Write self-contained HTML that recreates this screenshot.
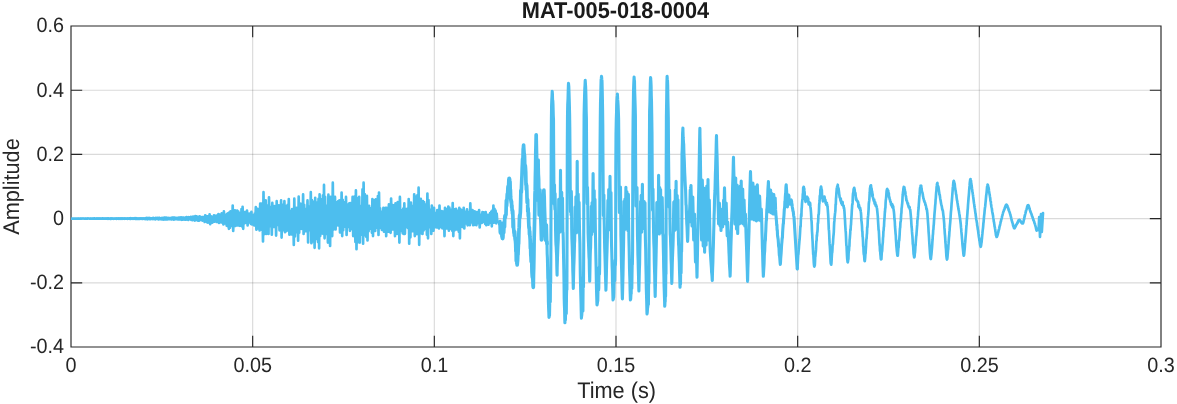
<!DOCTYPE html>
<html lang="en">
<head>
<meta charset="utf-8">
<title>MAT-005-018-0004</title>
<style>
html,body{margin:0;padding:0;background:#fff;}
body{width:1177px;height:404px;overflow:hidden;}
svg{display:block;}
</style>
</head>
<body>
<svg width="1177" height="404" viewBox="0 0 1177 404">
<rect width="1177" height="404" fill="#fff"/>
<path d="M252.67 26.00 V347.00 M434.33 26.00 V347.00 M616.00 26.00 V347.00 M797.67 26.00 V347.00 M979.33 26.00 V347.00" stroke="#262626" stroke-opacity="0.17" stroke-width="1.15" fill="none"/>
<path d="M71.00 90.20 H1161.00 M71.00 154.40 H1161.00 M71.00 218.60 H1161.00 M71.00 282.80 H1161.00" stroke="#262626" stroke-opacity="0.17" stroke-width="1.15" fill="none"/>
<path d="M71.00 26.00 H1161.00 V347.00 H71.00 Z M252.67 347.00 v-11.20 M252.67 26.00 v11.20 M434.33 347.00 v-11.20 M434.33 26.00 v11.20 M616.00 347.00 v-11.20 M616.00 26.00 v11.20 M797.67 347.00 v-11.20 M797.67 26.00 v11.20 M979.33 347.00 v-11.20 M979.33 26.00 v11.20 M71.00 90.20 h11.20 M1161.00 90.20 h-11.20 M71.00 154.40 h11.20 M1161.00 154.40 h-11.20 M71.00 218.60 h11.20 M1161.00 218.60 h-11.20 M71.00 282.80 h11.20 M1161.00 282.80 h-11.20" stroke="#262626" stroke-width="1.15" fill="none" stroke-linecap="butt" stroke-linejoin="miter"/>
<clipPath id="ax"><rect x="71.00" y="26.00" width="1090.00" height="321.00"/></clipPath>
<path clip-path="url(#ax)" d="M71.0 218.5 L71.5 218.6 L72.1 218.5 L72.7 218.6 L73.2 218.5 L73.8 218.6 L74.3 218.5 L74.8 218.6 L75.4 218.5 L76.0 218.6 L76.5 218.5 L77.0 218.6 L77.6 218.5 L78.2 218.7 L78.7 218.5 L79.2 218.6 L79.8 218.5 L80.3 218.7 L80.9 218.5 L81.5 218.6 L82.0 218.4 L82.5 218.6 L83.1 218.4 L83.7 218.6 L84.2 218.5 L84.8 218.6 L85.3 218.5 L85.8 218.7 L86.4 218.5 L87.0 218.7 L87.5 218.4 L88.0 218.6 L88.6 218.4 L89.2 218.6 L89.7 218.5 L90.2 218.6 L90.8 218.4 L91.3 218.7 L91.9 218.5 L92.5 218.7 L93.0 218.4 L93.5 218.7 L94.1 218.4 L94.7 218.7 L95.2 218.5 L95.8 218.7 L96.3 218.4 L96.8 218.7 L97.4 218.4 L98.0 218.7 L98.5 218.4 L99.0 218.6 L99.6 218.4 L100.2 218.7 L100.7 218.5 L101.2 218.7 L101.8 218.5 L102.3 218.7 L102.9 218.4 L103.5 218.7 L104.0 218.4 L104.6 218.7 L105.1 218.4 L105.7 218.7 L106.2 218.4 L106.8 218.7 L107.3 218.4 L107.8 218.8 L108.4 218.4 L109.0 218.7 L109.5 218.5 L110.1 218.8 L110.6 218.4 L111.2 218.8 L111.7 218.4 L112.2 218.7 L112.8 218.4 L113.3 218.8 L113.9 218.5 L114.5 218.7 L115.0 218.4 L115.6 218.7 L116.1 218.4 L116.7 218.8 L117.2 218.4 L117.8 218.7 L118.3 218.4 L118.8 218.8 L119.4 218.4 L120.0 218.7 L120.5 218.4 L121.1 218.8 L121.6 218.3 L122.2 218.8 L122.7 218.4 L123.2 218.7 L123.8 218.4 L124.3 218.8 L124.9 218.3 L125.5 218.7 L126.0 218.4 L126.6 218.7 L127.1 218.4 L127.7 218.8 L128.2 218.3 L128.8 218.7 L129.3 218.4 L129.8 218.9 L130.4 218.2 L130.9 218.8 L131.5 218.3 L132.1 218.8 L132.6 218.3 L133.2 218.8 L133.7 218.3 L134.2 218.7 L134.8 218.2 L135.4 218.9 L135.9 218.2 L136.4 218.9 L137.0 218.3 L137.6 218.8 L138.1 218.4 L138.7 218.9 L139.2 218.4 L139.8 218.8 L140.3 218.3 L140.9 218.8 L141.4 218.3 L141.9 218.8 L142.5 218.4 L143.1 218.8 L143.6 218.3 L144.2 218.9 L144.7 218.3 L145.2 219.1 L145.8 218.1 L146.4 218.9 L146.9 217.9 L147.4 219.3 L148.0 218.2 L148.6 218.9 L149.1 218.0 L149.7 219.2 L150.2 218.1 L150.8 219.0 L151.3 218.3 L151.9 218.9 L152.4 218.1 L152.9 219.0 L153.5 217.9 L154.1 218.9 L154.6 218.3 L155.2 219.3 L155.7 218.0 L156.2 218.9 L156.8 218.0 L157.4 218.9 L157.9 218.0 L158.4 219.4 L159.0 217.8 L159.6 219.2 L160.1 218.1 L160.7 219.1 L161.2 218.1 L161.8 219.3 L162.3 217.9 L162.9 219.3 L163.4 218.0 L163.9 219.6 L164.5 217.6 L165.1 219.5 L165.6 217.7 L166.2 219.4 L166.7 217.7 L167.2 219.4 L167.8 218.1 L168.4 219.2 L168.9 218.0 L169.4 219.0 L170.0 218.2 L170.6 219.1 L171.1 218.0 L171.7 219.4 L172.2 217.6 L172.8 219.2 L173.3 217.6 L173.9 219.6 L174.4 217.6 L174.9 219.2 L175.5 218.0 L176.1 219.1 L176.6 218.0 L177.2 219.1 L177.7 217.8 L178.2 219.5 L178.8 217.6 L179.4 219.3 L179.9 217.7 L180.4 219.5 L181.0 217.4 L181.6 219.8 L182.1 217.5 L182.7 219.6 L183.2 217.5 L183.8 219.4 L184.3 217.9 L184.9 219.7 L185.4 217.7 L185.9 219.7 L186.5 217.1 L187.1 219.4 L187.6 217.6 L188.2 220.0 L188.7 217.2 L189.2 219.3 L189.8 217.7 L190.4 219.3 L190.9 216.9 L191.4 220.0 L192.0 217.6 L192.6 220.1 L193.1 216.6 L193.7 220.0 L194.2 217.3 L194.8 220.6 L195.3 216.2 L195.9 219.4 L196.4 216.4 L197.0 220.2 L197.5 216.9 L198.1 220.7 L198.6 217.0 L199.2 220.7 L199.7 216.4 L200.2 219.9 L200.8 217.2 L201.4 220.1 L201.9 217.1 L202.5 220.6 L203.0 217.1 L203.6 220.4 L204.1 217.2 L204.7 222.0 L205.2 215.3 L205.8 220.9 L206.3 216.2 L206.9 222.2 L207.4 216.4 L208.0 222.7 L208.5 216.1 L209.1 222.0 L209.6 214.3 L210.2 224.2 L210.7 216.1 L211.2 221.0 L211.8 217.0 L212.4 222.6 L212.9 216.6 L213.5 221.6 L214.0 215.3 L214.6 221.7 L215.1 216.2 L215.7 221.5 L216.2 215.7 L216.8 222.0 L217.3 216.7 L217.9 221.4 L218.4 214.0 L219.0 222.8 L219.5 214.7 L220.1 221.5 L220.6 214.9 L221.2 222.5 L221.7 213.4 L222.2 221.8 L222.8 214.0 L223.4 224.5 L223.9 211.4 L224.5 223.4 L225.0 214.5 L225.6 223.4 L226.1 214.5 L226.7 225.7 L227.2 213.8 L227.8 226.2 L228.3 213.2 L228.9 228.8 L229.4 212.3 L230.0 227.7 L230.5 211.4 L231.1 223.4 L231.6 214.1 L232.2 225.6 L232.7 205.5 L233.2 231.0 L233.8 213.9 L234.4 226.0 L234.9 210.4 L235.5 226.0 L236.0 214.5 L236.6 224.0 L237.1 210.6 L237.7 225.4 L238.2 211.4 L238.8 225.3 L239.3 214.1 L239.9 225.8 L240.4 212.8 L241.0 224.1 L241.5 209.0 L242.1 226.4 L242.6 206.9 L243.2 228.8 L243.7 211.8 L244.2 223.3 L244.8 214.0 L245.4 222.8 L245.9 211.9 L246.5 221.2 L247.0 210.6 L247.6 225.4 L248.1 215.8 L248.7 222.0 L249.2 213.6 L249.8 222.5 L250.3 215.9 L250.9 223.9 L251.4 211.9 L252.0 224.5 L252.5 215.4 L253.1 222.4 L253.6 215.2 L254.2 225.5 L254.7 213.5 L255.3 222.9 L255.8 207.2 L256.4 229.6 L256.9 208.7 L257.5 224.1 L258.0 212.7 L258.6 228.4 L259.1 208.9 L259.6 230.5 L260.2 203.5 L260.8 224.7 L261.3 203.5 L261.9 229.8 L262.4 208.9 L263.0 241.5 L263.5 192.2 L264.1 234.1 L264.6 210.0 L265.1 232.5 L265.7 200.4 L266.2 233.9 L266.8 207.2 L267.4 226.7 L267.9 205.4 L268.5 233.9 L269.0 197.3 L269.6 225.1 L270.1 206.9 L270.6 226.1 L271.2 211.7 L271.8 234.7 L272.3 202.9 L272.9 226.0 L273.4 210.2 L274.0 227.0 L274.5 206.0 L275.1 227.0 L275.6 208.0 L276.1 235.6 L276.7 201.2 L277.2 224.8 L277.8 210.1 L278.4 225.0 L278.9 205.4 L279.5 230.3 L280.0 210.5 L280.6 229.9 L281.1 200.4 L281.6 237.6 L282.2 204.5 L282.8 228.2 L283.3 207.7 L283.9 230.3 L284.4 201.2 L285.0 232.2 L285.5 205.9 L286.1 231.2 L286.6 208.8 L287.1 230.5 L287.7 204.9 L288.2 229.4 L288.8 199.0 L289.4 234.7 L289.9 211.1 L290.5 226.6 L291.0 210.9 L291.6 234.5 L292.1 209.0 L292.6 228.9 L293.2 210.7 L293.8 244.9 L294.3 198.7 L294.9 236.5 L295.4 208.3 L296.0 230.1 L296.5 207.9 L297.1 232.2 L297.6 209.1 L298.1 240.7 L298.7 196.7 L299.2 232.7 L299.8 203.7 L300.4 226.2 L300.9 203.8 L301.5 228.8 L302.0 208.7 L302.6 226.0 L303.1 194.4 L303.6 233.9 L304.2 204.8 L304.8 229.8 L305.3 208.8 L305.9 231.1 L306.4 211.6 L307.0 229.6 L307.5 200.4 L308.1 242.4 L308.6 210.8 L309.1 227.3 L309.7 206.4 L310.2 230.2 L310.8 192.2 L311.4 243.2 L311.9 200.2 L312.5 237.2 L313.0 201.7 L313.6 241.4 L314.1 206.6 L314.6 247.8 L315.2 197.8 L315.8 231.2 L316.3 202.4 L316.9 239.0 L317.4 210.0 L318.0 242.1 L318.5 198.9 L319.1 248.3 L319.6 194.4 L320.2 236.1 L320.7 199.1 L321.2 230.0 L321.8 202.5 L322.4 233.5 L322.9 195.3 L323.5 233.9 L324.0 184.9 L324.6 238.3 L325.1 196.8 L325.7 234.1 L326.2 205.5 L326.8 227.0 L327.3 208.2 L327.9 242.6 L328.4 194.7 L329.0 239.2 L329.5 204.4 L330.1 245.9 L330.6 196.9 L331.2 233.7 L331.7 197.8 L332.2 236.1 L332.8 182.7 L333.4 229.6 L333.9 201.6 L334.5 226.5 L335.0 196.9 L335.6 229.5 L336.1 202.1 L336.7 224.6 L337.2 209.6 L337.8 225.3 L338.3 201.0 L338.9 225.4 L339.4 200.3 L340.0 232.5 L340.5 203.0 L341.1 228.1 L341.6 192.5 L342.2 236.1 L342.7 199.8 L343.2 230.1 L343.8 202.1 L344.4 225.1 L344.9 208.8 L345.5 226.6 L346.0 196.9 L346.6 235.0 L347.1 204.4 L347.7 224.5 L348.2 210.3 L348.8 226.9 L349.3 203.3 L349.9 230.8 L350.4 203.2 L351.0 227.2 L351.5 205.0 L352.1 228.9 L352.6 196.9 L353.2 236.1 L353.7 199.1 L354.2 229.2 L354.8 196.3 L355.4 241.9 L355.9 190.4 L356.5 249.2 L357.0 197.8 L357.6 242.4 L358.1 204.4 L358.7 231.0 L359.2 196.9 L359.8 242.6 L360.3 206.6 L360.9 234.7 L361.4 205.8 L362.0 234.2 L362.5 189.3 L363.1 243.7 L363.6 182.7 L364.2 233.5 L364.7 194.0 L365.2 235.3 L365.8 206.2 L366.4 237.0 L366.9 195.8 L367.5 240.4 L368.0 210.8 L368.6 231.1 L369.1 205.9 L369.7 228.6 L370.2 209.7 L370.8 228.5 L371.3 208.2 L371.9 232.8 L372.4 199.1 L373.0 236.1 L373.5 202.0 L374.1 225.7 L374.6 200.1 L375.2 230.9 L375.7 199.4 L376.2 227.0 L376.8 205.2 L377.4 227.8 L377.9 196.1 L378.5 235.0 L379.0 192.5 L379.6 227.6 L380.1 208.3 L380.7 224.1 L381.2 211.7 L381.8 229.8 L382.3 211.7 L382.9 229.9 L383.4 207.8 L384.0 231.7 L384.5 211.9 L385.1 226.2 L385.6 207.8 L386.2 236.1 L386.7 207.9 L387.2 231.3 L387.8 208.4 L388.4 231.7 L388.9 204.4 L389.5 228.2 L390.0 205.0 L390.6 232.8 L391.1 198.6 L391.7 227.3 L392.2 204.8 L392.8 229.4 L393.3 209.9 L393.9 224.8 L394.4 205.1 L395.0 236.1 L395.5 203.4 L396.1 228.6 L396.6 209.8 L397.2 233.8 L397.7 202.1 L398.2 229.4 L398.8 204.2 L399.4 242.6 L399.9 196.9 L400.5 231.0 L401.0 210.0 L401.6 227.3 L402.1 210.4 L402.7 233.3 L403.2 208.6 L403.8 233.9 L404.3 203.4 L404.9 233.8 L405.4 208.8 L406.0 226.9 L406.5 210.6 L407.1 227.2 L407.6 208.7 L408.2 228.1 L408.7 199.1 L409.2 243.7 L409.8 205.2 L410.4 237.3 L410.9 202.6 L411.5 230.7 L412.0 205.9 L412.6 231.1 L413.1 205.8 L413.7 228.3 L414.2 194.3 L414.8 236.1 L415.3 196.4 L415.9 227.1 L416.4 201.7 L417.0 234.1 L417.5 195.1 L418.1 230.1 L418.6 187.7 L419.2 244.8 L419.7 203.3 L420.2 231.3 L420.8 198.8 L421.4 233.3 L421.9 203.0 L422.5 233.9 L423.0 201.2 L423.6 230.4 L424.1 202.1 L424.7 229.0 L425.2 204.3 L425.8 224.9 L426.3 205.6 L426.9 234.7 L427.4 193.6 L428.0 238.3 L428.5 200.0 L429.1 227.1 L429.6 211.3 L430.2 225.7 L430.7 209.6 L431.3 233.9 L431.8 205.6 L432.4 228.4 L432.9 210.8 L433.5 230.6 L434.0 207.8 L434.6 226.0 L435.1 214.3 L435.7 227.1 L436.2 212.9 L436.8 227.5 L437.3 210.0 L437.9 223.8 L438.4 213.2 L439.0 228.5 L439.5 205.6 L440.1 227.0 L440.6 213.6 L441.2 223.7 L441.7 211.2 L442.3 228.3 L442.8 212.3 L443.4 226.2 L443.9 211.3 L444.5 236.1 L445.0 207.8 L445.6 228.0 L446.1 208.9 L446.7 228.5 L447.2 209.1 L447.8 226.4 L448.3 206.7 L448.9 230.6 L449.4 207.7 L450.0 228.7 L450.5 211.5 L451.1 224.2 L451.6 209.5 L452.2 230.6 L452.7 203.0 L453.3 236.1 L453.8 209.1 L454.4 230.5 L454.9 213.1 L455.5 223.1 L456.0 208.9 L456.6 229.5 L457.1 211.4 L457.7 225.4 L458.2 210.5 L458.8 231.8 L459.3 207.8 L459.9 238.3 L460.4 209.2 L461.0 226.9 L461.5 210.1 L462.1 225.1 L462.6 213.5 L463.2 227.1 L463.7 207.8 L464.3 228.5 L464.8 211.5 L465.4 222.6 L465.9 212.8 L466.5 223.4 L467.0 209.4 L467.6 225.3 L468.1 212.6 L468.7 222.6 L469.2 211.8 L469.8 225.2 L470.3 203.4 L470.9 221.1 L471.4 214.2 L472.0 222.3 L472.5 210.0 L473.1 225.2 L473.6 212.2 L474.2 224.9 L474.7 211.3 L475.3 222.5 L475.8 214.7 L476.4 225.2 L476.9 212.1 L477.5 221.6 L478.0 212.5 L478.6 223.3 L479.1 210.0 L479.7 227.4 L480.2 214.9 L480.8 221.4 L481.3 214.6 L481.9 222.8 L482.4 212.2 L483.0 221.7 L483.5 212.4 L484.1 221.8 L484.6 214.9 L485.2 223.9 L485.7 212.1 L486.3 225.2 L486.8 216.1 L487.4 222.8 L487.9 214.9 L488.5 224.6 L489.0 215.5 L489.6 222.6 L490.1 213.0 L490.7 221.4 L491.2 211.7 L491.8 226.3 L492.3 210.7 L492.9 220.3 L493.4 205.6 L494.0 222.6 L494.5 208.8 L495.1 221.0 L495.6 210.7 L496.2 223.3 L496.7 213.5 L497.3 221.7 L499.5 222.0 L499.7 224.3" stroke="#4DBEEE" stroke-width="2.67" fill="none" stroke-linejoin="round" stroke-linecap="butt"/>
<path clip-path="url(#ax)" d="M546.7 241.3 L547.0 243.6 L547.2 254.1 L547.4 257.7 L547.6 267.0 L547.8 278.1 L548.0 279.8 L548.2 289.0 L548.4 302.0 L548.6 307.9 L548.8 312.2 L549.0 317.4 L549.1 317.0 L549.3 314.8 L549.5 315.8 L549.7 305.1 L549.9 288.8 L550.1 292.4 L550.3 301.7 L550.5 278.9 L550.7 283.4 L550.9 247.2 L551.2 147.6 L551.4 118.8 L551.6 105.0 L551.8 99.7 L552.0 96.4 L552.2 91.2 L552.2 91.3 L552.4 93.6 L552.6 100.1 L552.8 100.7 L553.0 104.6 L553.3 115.8 L553.5 119.7 L553.7 158.0 L553.9 183.7 L554.1 204.1 L554.3 202.5 L554.5 184.7 L554.7 205.0 L554.9 209.4 L555.1 193.5 L555.4 210.0 L555.6 231.6 L555.8 240.9 L556.0 244.9 L556.2 246.9 L556.4 251.8 L556.6 255.0 L556.8 266.3 L557.0 272.7 L557.1 275.2 L557.2 267.8 L557.5 257.2 L557.7 252.3 L557.9 246.6 L558.1 243.0 L558.3 238.9 L558.5 225.9 L558.7 199.2 L558.9 221.2 L559.1 228.2 L559.3 200.5 L559.6 205.5 L559.8 232.1 L560.0 230.1 L560.2 214.2 L560.4 184.3 L560.5 170.3 L560.6 183.2 L560.8 208.0 L561.0 218.6 L561.2 228.0 L561.4 206.5 L561.7 192.3 L561.9 213.0 L562.1 229.7 L562.3 210.2 L562.5 198.0 L562.7 214.4 L562.9 232.9 L563.1 232.8 L563.3 240.3 L563.5 253.6 L563.8 268.6 L564.0 280.9 L564.2 298.7 L564.4 305.5 L564.6 310.2 L564.8 319.5 L564.9 322.8 L565.0 321.1 L565.2 319.3 L565.4 319.9 L565.6 312.6 L565.9 297.9 L566.1 295.7 L566.3 313.4 L566.5 294.9 L566.7 287.8 L566.9 289.7 L567.1 221.5 L567.3 144.9 L567.5 115.5 L567.7 104.9 L568.0 98.7 L568.2 91.1 L568.4 85.0 L568.5 83.4 L568.6 84.3 L568.8 86.6 L569.0 92.2 L569.2 98.2 L569.4 106.1 L569.6 113.7 L569.8 127.6 L570.1 166.7 L570.3 194.6 L570.5 211.7 L570.7 192.9 L570.9 192.0 L571.1 215.1 L571.3 191.4 L571.5 198.1 L571.7 229.5 L571.9 239.0 L572.2 246.5 L572.4 254.2 L572.6 259.3 L572.8 270.8 L573.0 276.3 L573.2 285.3 L573.3 288.5 L573.4 284.2 L573.6 274.9 L573.8 266.4 L574.0 261.9 L574.3 252.2 L574.5 243.4 L574.7 240.8 L574.9 221.1 L575.1 206.9 L575.3 207.8 L575.5 226.4 L575.7 219.9 L575.9 196.8 L576.1 213.4 L576.4 232.8 L576.6 231.9 L576.8 224.1 L577.0 193.4 L577.2 161.3 L577.2 161.3 L577.4 193.3 L577.6 212.4 L577.8 225.3 L578.0 211.6 L578.2 194.0 L578.5 210.5 L578.7 227.3 L578.9 210.3 L579.1 202.2 L579.3 217.6 L579.5 229.5 L579.7 236.6 L579.9 243.4 L580.1 259.2 L580.3 274.1 L580.6 287.1 L580.8 295.0 L581.0 301.5 L581.2 310.7 L581.4 318.2 L581.4 318.2 L581.6 316.2 L581.8 314.7 L582.0 310.7 L582.2 305.5 L582.4 286.3 L582.7 293.6 L582.9 310.9 L583.1 287.7 L583.3 277.2 L583.5 287.0 L583.7 248.5 L583.9 156.5 L584.1 114.7 L584.3 105.2 L584.5 98.1 L584.8 88.4 L585.0 85.3 L585.2 80.9 L585.2 80.4 L585.4 83.4 L585.6 86.0 L585.8 91.0 L586.0 99.1 L586.2 111.6 L586.4 118.2 L586.6 149.8 L586.9 182.1 L587.1 202.5 L587.3 204.1 L587.5 187.3 L587.7 198.0 L587.9 218.1 L588.1 233.6 L588.3 239.4 L588.5 243.3 L588.7 248.8 L589.0 256.8 L589.2 259.4 L589.4 270.6 L589.6 277.2 L589.7 281.2 L589.8 277.2 L590.0 267.1 L590.2 256.1 L590.4 250.1 L590.6 247.8 L590.8 237.2 L591.1 228.7 L591.3 206.2 L591.5 211.1 L591.7 234.5 L591.9 211.3 L592.1 202.5 L592.3 227.6 L592.5 227.6 L592.7 222.6 L592.9 192.0 L593.1 173.5 L593.2 180.4 L593.4 203.9 L593.6 217.6 L593.8 231.2 L594.0 212.9 L594.2 190.5 L594.4 213.5 L594.6 227.1 L594.8 208.7 L595.0 199.4 L595.3 223.8 L595.5 237.4 L595.7 247.9 L595.9 257.6 L596.1 266.8 L596.3 278.8 L596.5 289.1 L596.7 296.2 L596.9 302.8 L597.0 305.0 L597.1 304.7 L597.4 302.7 L597.6 301.5 L597.8 300.7 L598.0 289.7 L598.2 278.6 L598.4 273.8 L598.6 290.0 L598.8 287.8 L599.0 269.8 L599.2 267.3 L599.5 274.3 L599.7 264.4 L599.9 176.5 L600.1 140.8 L600.3 117.5 L600.5 102.3 L600.7 96.3 L600.9 87.7 L601.1 80.0 L601.3 78.5 L601.5 76.3 L601.6 76.9 L601.8 79.4 L602.0 80.8 L602.2 88.9 L602.4 98.7 L602.6 109.7 L602.8 125.8 L603.0 164.4 L603.2 192.0 L603.4 215.6 L603.7 195.8 L603.9 194.9 L604.1 216.9 L604.3 226.5 L604.5 238.5 L604.7 248.4 L604.9 254.0 L605.1 260.7 L605.3 268.3 L605.5 276.9 L605.8 285.8 L605.9 290.2 L606.0 287.8 L606.2 281.6 L606.4 273.8 L606.6 263.4 L606.8 257.0 L607.0 251.4 L607.2 243.9 L607.4 236.4 L607.6 219.0 L607.9 200.2 L608.1 218.7 L608.3 229.4 L608.5 215.1 L608.7 189.5 L608.9 212.8 L609.1 229.3 L609.3 229.5 L609.5 221.5 L609.7 200.0 L610.0 179.9 L610.0 176.2 L610.2 194.0 L610.4 211.4 L610.6 224.7 L610.8 217.9 L611.0 192.5 L611.2 215.1 L611.4 238.3 L611.6 247.0 L611.8 253.6 L612.1 266.2 L612.3 271.2 L612.5 282.6 L612.7 288.3 L612.9 295.8 L613.0 300.0 L613.1 298.7 L613.3 299.0 L613.5 297.1 L613.7 297.3 L613.9 292.1 L614.2 273.9 L614.4 266.4 L614.6 280.8 L614.8 280.3 L615.0 268.4 L615.2 260.0 L615.4 265.1 L615.6 259.0 L615.8 166.8 L616.0 134.5 L616.3 119.1 L616.5 113.3 L616.7 104.7 L616.9 100.6 L617.1 97.4 L617.3 95.7 L617.4 94.1 L617.5 96.0 L617.7 99.7 L617.9 102.0 L618.1 105.3 L618.4 112.7 L618.6 118.7 L618.8 137.6 L619.0 170.2 L619.2 195.6 L619.4 212.5 L619.6 197.8 L619.8 189.9 L620.0 202.0 L620.2 203.6 L620.5 187.0 L620.7 207.2 L620.9 235.7 L621.1 242.7 L621.3 255.7 L621.5 265.0 L621.7 272.1 L621.9 281.5 L622.1 290.1 L622.3 297.3 L622.4 299.0 L622.6 291.6 L622.8 282.3 L623.0 274.6 L623.2 262.4 L623.4 253.0 L623.6 241.9 L623.8 224.2 L624.0 201.2 L624.2 214.1 L624.4 230.0 L624.7 208.7 L624.9 199.1 L625.1 222.3 L625.3 229.2 L625.5 225.2 L625.7 199.6 L625.9 187.3 L625.9 188.7 L626.1 202.9 L626.3 216.5 L626.5 226.1 L626.8 206.8 L627.0 191.9 L627.2 214.1 L627.4 222.6 L627.6 202.1 L627.8 204.0 L628.0 230.8 L628.2 215.0 L628.4 194.4 L628.6 220.3 L628.9 238.2 L629.1 246.4 L629.3 256.4 L629.5 268.1 L629.7 275.3 L629.9 280.5 L630.1 290.9 L630.3 297.1 L630.4 300.0 L630.5 298.7 L630.7 299.2 L631.0 292.7 L631.2 293.7 L631.4 274.1 L631.6 269.5 L631.8 288.5 L632.0 275.7 L632.2 263.0 L632.4 264.5 L632.6 250.4 L632.8 156.2 L633.1 119.1 L633.3 105.8 L633.5 91.4 L633.7 85.3 L633.9 80.7 L634.1 77.1 L634.1 77.3 L634.3 80.2 L634.5 81.1 L634.7 91.7 L634.9 97.8 L635.2 107.6 L635.4 116.0 L635.6 157.5 L635.8 186.5 L636.0 206.0 L636.2 203.3 L636.4 187.2 L636.6 202.7 L636.8 198.4 L637.0 187.5 L637.3 220.1 L637.5 236.5 L637.7 243.0 L637.9 254.6 L638.1 260.3 L638.3 268.7 L638.5 275.7 L638.7 283.9 L638.9 291.0 L638.9 289.2 L639.1 281.5 L639.4 268.7 L639.6 264.2 L639.8 250.8 L640.0 242.9 L640.2 233.2 L640.4 216.0 L640.6 201.3 L640.8 221.6 L641.0 223.7 L641.2 195.2 L641.5 209.8 L641.7 232.3 L641.9 225.5 L642.1 213.5 L642.3 192.0 L642.4 184.2 L642.5 192.8 L642.7 208.3 L642.9 217.2 L643.1 220.7 L643.3 205.4 L643.6 202.0 L643.8 221.0 L644.0 216.2 L644.2 201.6 L644.4 211.1 L644.6 228.8 L644.8 214.8 L645.0 202.8 L645.2 224.0 L645.4 239.4 L645.7 250.1 L645.9 264.9 L646.1 274.3 L646.3 288.3 L646.5 294.8 L646.7 301.6 L646.9 311.0 L647.0 314.0 L647.1 313.5 L647.3 312.0 L647.5 308.4 L647.8 306.7 L648.0 285.2 L648.2 288.1 L648.4 304.5 L648.6 285.5 L648.8 274.6 L649.0 283.3 L649.2 207.6 L649.4 146.5 L649.6 111.0 L649.9 103.1 L650.1 92.5 L650.3 83.5 L650.5 79.0 L650.6 77.5 L650.7 79.0 L650.9 81.2 L651.1 85.7 L651.3 95.8 L651.5 101.2 L651.7 113.4 L652.0 133.5 L652.2 171.2 L652.4 188.9 L652.6 210.2 L652.8 196.4 L653.0 189.0 L653.2 207.5 L653.4 220.8 L653.6 233.1 L653.8 242.4 L654.1 249.0 L654.3 262.1 L654.5 269.3 L654.7 275.1 L654.9 286.6 L655.1 293.4 L655.2 296.5 L655.3 290.6 L655.5 282.7 L655.7 271.5 L655.9 263.6 L656.2 249.4 L656.4 239.9 L656.6 223.5 L656.8 202.5 L657.0 214.1 L657.2 228.7 L657.4 204.5 L657.6 203.9 L657.8 232.6 L658.0 230.7 L658.3 220.7 L658.5 190.5 L658.6 175.2 L658.7 184.1 L658.9 204.6 L659.1 220.6 L659.3 234.0 L659.5 211.4 L659.7 187.5 L659.9 207.5 L660.1 230.4 L660.4 209.5 L660.6 189.5 L660.8 208.2 L661.0 226.7 L661.2 215.5 L661.4 198.6 L661.6 211.7 L661.8 232.2 L662.0 217.4 L662.2 197.6 L662.5 212.7 L662.7 233.6 L662.9 234.3 L663.1 236.6 L663.3 247.4 L663.5 255.2 L663.7 267.9 L663.9 276.0 L664.1 286.2 L664.3 292.3 L664.6 301.5 L664.7 306.3 L664.8 305.8 L665.0 301.9 L665.2 301.5 L665.4 273.5 L665.6 296.3 L665.8 269.9 L666.0 274.0 L666.2 168.6 L666.4 116.8 L666.7 97.8 L666.9 82.5 L667.1 76.8 L667.1 76.3 L667.3 79.2 L667.5 80.3 L667.7 85.0 L667.9 98.6 L668.1 107.3 L668.3 117.5 L668.5 151.6 L668.8 178.3 L669.0 200.6 L669.2 207.3 L669.4 191.3 L669.6 190.0 L669.8 204.0 L670.0 222.0 L670.2 234.3 L670.4 236.0 L670.6 242.5 L670.9 250.6 L671.1 260.1 L671.3 264.2 L671.5 273.5 L671.7 279.6 L671.8 283.4 L671.9 279.8 L672.1 272.2 L672.3 262.9 L672.5 257.3 L672.7 252.3 L673.0 245.3 L673.2 238.4 L673.4 230.6 L673.6 213.1 L673.8 202.0 L674.0 219.7 L674.2 218.8 L674.4 201.2 L674.6 209.7 L674.8 230.3 L675.1 212.3 L675.3 190.1 L675.5 211.1 L675.7 219.3 L675.9 198.0 L676.1 181.3 L676.1 182.2 L676.3 201.1 L676.5 213.9 L676.7 223.0 L676.9 214.8 L677.2 195.5 L677.4 208.5 L677.6 229.4 L677.8 218.4 L678.0 199.7 L678.2 220.0 L678.4 237.4 L678.6 244.7 L678.8 246.6 L679.0 254.2 L679.3 262.3 L679.5 270.2 L679.7 276.4 L679.9 283.3 L680.0 287.3 L680.1 286.2 L680.3 283.2 L680.5 284.2 L680.7 266.2 L680.9 258.7 L681.1 273.0 L681.4 248.3 L681.6 251.8 L681.8 236.1 L682.0 153.7 L682.2 150.1 L682.4 143.6 L682.6 133.1 L682.8 130.0 L682.9 128.1 L683.0 132.0 L683.2 137.7 L683.5 142.6 L683.7 144.3 L683.9 152.6 L684.1 156.5 L684.3 160.8 L684.5 167.0 L684.7 172.9 L684.9 176.5 L685.1 181.6 L685.3 185.6 L685.6 190.4 L685.8 197.9 L686.0 204.9 L686.2 205.3 L686.4 213.3 L686.6 218.1 L686.8 223.9 L687.0 226.7 L687.2 231.8 L687.4 237.4 L687.6 241.4 L687.7 239.9 L687.9 234.4 L688.1 226.2 L688.3 220.7 L688.5 214.7 L688.6 212.0 L688.7 213.3 L688.9 217.4 L689.1 220.1 L689.3 222.0 L689.3 220.4 L689.5 212.5 L689.8 206.0 L690.0 198.7 L690.2 190.6 L690.2 190.0 L690.4 189.8 L690.6 188.7 L690.8 187.3 L691.0 185.5 L691.0 186.3 L691.2 194.1 L691.4 205.2 L691.6 211.4 L691.9 219.8 L692.0 226.0 L692.1 223.4 L692.3 214.9 L692.5 209.6 L692.7 200.6 L692.8 197.0 L692.9 202.0 L693.1 210.8 L693.3 223.9 L693.5 232.0 L693.7 240.0 L693.7 238.4 L694.0 232.1 L694.2 223.4 L694.4 217.6 L694.5 214.0 L694.6 218.7 L694.8 229.4 L695.0 240.6 L695.2 249.4 L695.4 259.0 L695.5 262.0 L695.6 255.3 L695.8 246.2 L696.0 240.0 L696.1 242.1 L696.3 248.7 L696.5 255.9 L696.7 264.9 L696.9 273.2 L697.0 277.1 L697.1 271.5 L697.3 261.2 L697.5 251.7 L697.7 238.5 L697.9 230.6 L698.2 216.9 L698.4 206.4 L698.6 195.5 L698.8 186.6 L699.0 175.6 L699.2 163.2 L699.4 152.1 L699.6 140.9 L699.8 131.1 L699.9 128.2 L700.0 137.8 L700.3 150.7 L700.5 166.4 L700.7 180.8 L700.9 193.2 L701.1 207.0 L701.3 220.5 L701.5 235.1 L701.6 240.0 L701.7 229.0 L701.9 212.1 L702.1 192.7 L702.3 180.0 L702.4 184.3 L702.6 201.0 L702.8 215.7 L703.0 231.5 L703.2 246.0 L703.2 246.0 L703.4 228.2 L703.6 211.5 L703.8 194.1 L703.9 188.0 L704.0 200.6 L704.2 220.6 L704.5 239.5 L704.6 252.1 L704.7 246.0 L704.9 225.9 L705.1 209.7 L705.3 190.0 L705.3 190.0 L705.5 205.4 L705.7 219.5 L705.9 233.6 L706.1 245.0 L706.1 241.6 L706.3 223.4 L706.6 206.9 L706.8 188.5 L706.8 186.0 L707.0 201.7 L707.2 220.3 L707.4 240.0 L707.4 240.0 L707.6 218.3 L707.8 198.0 L708.0 179.6 L708.0 181.8 L708.2 197.0 L708.4 211.6 L708.7 226.1 L708.8 236.0 L708.9 230.9 L709.1 216.3 L709.3 200.7 L709.3 200.0 L709.5 211.5 L709.7 223.6 L709.9 234.6 L710.1 245.9 L710.2 250.0 L710.3 252.1 L710.5 254.3 L710.8 259.3 L711.0 262.5 L711.2 265.3 L711.4 267.9 L711.6 272.3 L711.8 273.6 L712.0 275.8 L712.2 279.3 L712.3 280.5 L712.4 275.8 L712.6 269.3 L712.9 261.7 L713.1 252.1 L713.3 247.7 L713.5 240.6 L713.7 231.5 L713.9 225.2 L714.1 215.6 L714.3 210.9 L714.5 200.8 L714.7 195.2 L715.0 190.2 L715.2 182.1 L715.4 173.6 L715.6 168.9 L715.8 160.3 L716.0 154.5 L716.2 145.1 L716.4 138.0 L716.5 135.5 L716.6 140.8 L716.8 149.0 L717.1 157.3 L717.3 166.5 L717.5 179.2 L717.7 186.5 L717.9 195.6 L718.1 205.4 L718.3 211.3 L718.5 221.2 L718.6 224.0 L718.7 220.2 L718.9 215.6 L719.2 210.0 L719.4 203.8 L719.4 203.0 L719.6 209.5 L719.8 215.4 L720.0 223.0 L720.1 226.0 L720.2 221.8 L720.4 212.6 L720.5 209.0 L720.6 215.2 L720.8 223.6 L721.0 230.5 L721.0 229.2 L721.3 223.5 L721.5 219.9 L721.7 212.7 L721.8 210.0 L721.9 212.0 L722.1 215.3 L722.3 221.4 L722.5 225.4 L722.6 227.0 L722.7 224.1 L722.9 216.6 L723.1 212.7 L723.4 206.0 L723.6 200.8 L723.6 200.0 L723.8 205.7 L724.0 211.7 L724.0 212.0 L724.2 202.2 L724.4 192.3 L724.5 187.7 L724.6 191.5 L724.8 200.0 L725.0 203.7 L725.2 212.7 L725.5 219.6 L725.6 224.0 L725.7 221.3 L725.9 215.4 L726.1 206.4 L726.2 203.0 L726.3 206.4 L726.5 212.0 L726.7 219.4 L726.9 227.8 L727.1 234.1 L727.2 236.0 L727.3 232.4 L727.6 225.4 L727.7 222.0 L727.8 223.7 L728.0 228.8 L728.2 230.9 L728.4 239.6 L728.6 242.1 L728.8 246.9 L729.0 252.7 L729.2 256.4 L729.4 263.6 L729.7 268.1 L729.9 270.8 L730.1 275.8 L730.1 276.3 L730.3 270.5 L730.5 261.6 L730.7 254.9 L730.9 246.2 L731.1 240.2 L731.3 235.0 L731.5 225.1 L731.8 216.0 L732.0 211.4 L732.2 204.8 L732.4 195.4 L732.6 187.0 L732.8 180.8 L733.0 175.4 L733.2 166.7 L733.4 159.1 L733.5 157.3 L733.6 164.1 L733.9 174.6 L734.1 184.1 L734.3 193.1 L734.5 204.1 L734.7 214.0 L734.9 224.0 L734.9 223.4 L735.1 212.3 L735.3 200.4 L735.5 187.5 L735.7 178.0 L735.7 181.4 L736.0 195.7 L736.2 206.8 L736.4 221.1 L736.5 229.0 L736.6 222.2 L736.8 207.8 L737.0 192.0 L737.1 185.0 L737.2 194.6 L737.4 212.3 L737.6 228.8 L737.7 233.5 L737.8 226.5 L738.1 216.4 L738.3 206.7 L738.5 197.0 L738.6 191.5 L738.7 195.5 L738.9 203.7 L739.1 212.7 L739.3 220.7 L739.4 224.0 L739.5 217.5 L739.7 208.9 L739.9 198.9 L740.2 187.8 L740.2 186.0 L740.4 197.2 L740.6 212.9 L740.7 221.0 L740.8 213.4 L741.0 197.7 L741.2 181.0 L741.2 181.5 L741.4 193.0 L741.6 202.2 L741.8 214.8 L742.0 223.0 L742.0 220.4 L742.3 209.9 L742.5 200.2 L742.7 189.9 L742.7 189.0 L742.9 198.4 L743.1 209.0 L743.3 219.9 L743.4 224.0 L743.5 220.1 L743.7 213.3 L743.9 206.0 L744.1 200.0 L744.1 201.9 L744.4 210.5 L744.6 216.7 L744.8 225.3 L744.8 226.0 L745.0 221.8 L745.2 218.2 L745.4 214.0 L745.4 214.3 L745.6 221.5 L745.8 225.3 L746.0 232.1 L746.2 238.7 L746.5 246.7 L746.7 252.3 L746.9 260.0 L747.1 265.4 L747.3 271.0 L747.5 278.9 L747.6 281.4 L747.7 276.7 L747.9 268.3 L748.1 262.5 L748.3 253.5 L748.6 243.3 L748.8 236.7 L749.0 231.3 L749.2 220.1 L749.4 211.6 L749.6 203.4 L749.8 195.5 L750.0 187.5 L750.2 181.4 L750.4 173.7 L750.5 171.6 L750.7 178.5 L750.9 185.8 L751.1 195.3 L751.3 201.3 L751.5 211.6 L751.7 219.0 L751.7 218.7 L751.9 212.0 L752.1 206.1 L752.3 199.6 L752.5 193.8 L752.8 187.0 L752.9 183.0 L753.0 185.2 L753.2 192.3 L753.4 197.6 L753.6 206.5 L753.8 210.9 L754.0 217.5 L754.1 220.0 L754.2 217.2 L754.4 210.8 L754.6 206.5 L754.9 200.8 L755.1 196.7 L755.3 189.6 L755.4 187.0 L755.5 189.9 L755.7 198.0 L755.9 203.1 L756.1 212.0 L756.3 218.5 L756.4 221.0 L756.5 215.0 L756.7 205.9 L757.0 199.6 L757.2 189.9 L757.3 184.7 L757.4 187.3 L757.6 193.3 L757.8 200.1 L758.0 204.7 L758.2 211.1 L758.4 217.7 L758.5 220.0 L758.6 216.8 L758.8 212.8 L759.1 207.3 L759.3 202.9 L759.5 198.3 L759.6 196.0 L759.7 198.3 L759.9 202.6 L760.1 209.8 L760.3 215.0 L760.5 219.3 L760.6 221.0 L760.7 219.1 L760.9 213.9 L761.2 211.0 L761.3 209.0 L761.4 211.5 L761.6 218.1 L761.8 223.9 L762.0 233.1 L762.2 239.0 L762.4 248.1 L762.6 252.0 L762.8 261.0 L763.0 267.2 L763.3 275.1 L763.3 276.3 L763.5 273.3 L763.7 269.8 L763.9 266.9 L764.1 263.1 L764.3 256.0 L764.5 253.0 L764.7 250.9 L764.9 244.9 L765.1 241.6 L765.4 240.0 L765.6 234.0 L765.8 230.6 L766.0 225.2 L766.2 221.0 L766.4 220.2 L766.6 215.7 L766.8 209.3 L767.0 208.6 L767.2 204.5 L767.5 198.4 L767.7 196.7 L767.9 189.8 L768.1 186.7 L768.3 183.8 L768.4 181.6 L768.5 184.3 L768.7 189.2 L768.9 193.9 L769.1 199.2 L769.3 205.6 L769.6 211.0 L769.6 212.0 L769.8 208.6 L770.0 202.4 L770.2 197.8 L770.4 195.0 L770.6 190.0 L770.6 190.3 L770.8 197.0 L771.0 203.4 L771.2 210.8 L771.3 213.0 L771.4 208.3 L771.7 203.6 L771.9 197.1 L772.0 193.5 L772.1 195.6 L772.3 200.2 L772.5 203.4 L772.7 209.5 L772.9 214.0 L772.9 213.6 L773.1 208.6 L773.3 203.9 L773.5 199.5 L773.8 195.4 L773.8 194.5 L774.0 199.2 L774.2 203.9 L774.4 209.5 L774.6 214.0 L774.6 214.0 L774.8 208.9 L775.0 202.5 L775.2 198.0 L775.2 198.7 L775.4 203.1 L775.6 209.9 L775.9 214.0 L775.9 215.0 L776.1 216.3 L776.3 219.3 L776.5 221.4 L776.7 225.5 L776.9 224.6 L777.1 230.2 L777.3 229.8 L777.5 234.8 L777.7 236.8 L778.0 238.5 L778.2 239.9 L778.4 242.7 L778.6 245.9 L778.8 247.1 L779.0 248.2 L779.2 253.1 L779.4 255.5 L779.6 256.1 L779.8 258.3 L780.1 262.5 L780.3 264.0 L780.3 264.4 L780.5 262.5 L780.7 258.3 L780.9 255.9 L781.1 253.7 L781.3 250.5 L781.5 246.7 L781.7 243.9 L781.9 242.1 L782.2 237.8 L782.4 238.0 L782.6 232.7 L782.8 229.4 L783.0 226.7 L783.2 223.9 L783.4 223.9 L783.6 219.1 L783.8 217.6 L784.0 215.0 L784.3 209.3 L784.5 208.5 L784.7 206.5 L784.9 201.3 L785.1 201.3 L785.3 196.9 L785.5 194.0 L785.7 192.9 L785.9 187.5 L786.1 185.5 L786.2 184.7 L786.4 187.8 L786.6 190.3 L786.8 194.9 L787.0 198.6 L787.2 203.7 L787.4 207.0 L787.4 206.9 L787.6 204.0 L787.8 203.3 L788.0 202.5 L788.2 199.8 L788.5 196.8 L788.6 195.0 L788.7 195.5 L788.9 195.7 L789.1 199.8 L789.3 199.8 L789.5 200.7 L789.7 201.1 L789.9 203.4 L790.0 204.0 L790.1 204.1 L790.3 203.3 L790.6 203.1 L790.8 201.2 L791.0 201.6 L791.2 200.1 L791.3 200.0 L791.4 200.7 L791.6 201.3 L791.8 205.0 L792.0 203.9 L792.2 206.2 L792.4 207.8 L792.5 208.0 L792.7 209.1 L792.9 210.8 L793.1 211.2 L793.3 211.8 L793.5 214.1 L793.7 216.0 L793.9 216.5 L794.0 217.0 L797.2 268.9 L797.4 267.8" stroke="#4DBEEE" stroke-width="3.1" fill="none" stroke-linejoin="round" stroke-linecap="round"/>
<path clip-path="url(#ax)" d="M499.5 222.0 L499.7 224.3 L499.9 221.7 L500.1 225.4 L500.3 231.8 L500.5 232.9 L500.8 223.3 L501.0 225.5 L501.2 224.5 L501.4 230.9 L501.6 226.3 L501.8 233.3 L502.0 237.0 L502.2 233.2 L502.4 238.4 L502.6 238.4 L502.7 238.5 L502.9 237.4 L503.1 233.0 L503.3 232.5 L503.5 228.9 L503.7 232.7 L503.9 227.5 L504.1 221.9 L504.3 225.4 L504.5 226.9 L504.7 218.7 L505.0 215.8 L505.2 216.8 L505.4 217.4 L505.5 215.0 L505.6 214.5 L505.8 215.3 L506.0 214.6 L506.2 206.2 L506.4 200.3 L506.6 205.8 L506.8 202.4 L507.1 197.7 L507.3 193.8 L507.5 194.1 L507.7 192.9 L507.9 188.1 L508.1 186.3 L508.3 186.5 L508.5 189.7 L508.7 183.9 L508.9 179.3 L509.2 178.5 L509.2 178.3 L509.4 178.8 L509.6 179.4 L509.8 184.9 L510.0 181.5 L510.2 189.0 L510.4 189.7 L510.6 196.5 L510.8 199.3 L511.0 200.8 L511.3 203.1 L511.5 201.3 L511.7 207.4 L511.9 205.4 L512.1 210.7 L512.3 209.7 L512.5 213.6 L512.7 210.9 L512.9 215.5 L513.1 227.2 L513.4 219.9 L513.6 228.1 L513.8 229.9 L514.0 233.1 L514.2 232.2 L514.4 236.0 L514.6 231.5 L514.8 233.9 L515.0 237.8 L515.2 239.5 L515.5 241.1 L515.7 243.8 L515.9 251.4 L516.1 249.1 L516.3 260.9 L516.5 259.8 L516.7 260.3 L516.9 263.5 L517.1 264.0 L517.2 265.0 L517.3 263.4 L517.6 260.3 L517.8 254.1 L518.0 254.6 L518.2 249.5 L518.4 244.5 L518.6 243.6 L518.8 236.3 L519.0 229.1 L519.2 227.4 L519.4 219.2 L519.7 215.2 L519.9 217.7 L520.1 214.5 L520.3 212.8 L520.5 207.4 L520.7 199.8 L520.9 190.4 L521.1 191.2 L521.3 192.5 L521.5 186.9 L521.8 179.4 L522.0 175.1 L522.2 168.4 L522.4 164.0 L522.6 158.8 L522.8 164.5 L523.0 157.6 L523.2 149.0 L523.4 147.8 L523.6 145.1 L523.6 145.5 L523.9 150.3 L524.1 153.6 L524.3 154.8 L524.5 155.6 L524.7 163.0 L524.9 169.5 L525.1 166.6 L525.3 165.6 L525.5 168.5 L525.7 171.9 L526.0 184.9 L526.2 183.2 L526.4 189.7 L526.6 185.2 L526.8 189.3 L527.0 197.2 L527.2 202.6 L527.4 199.5 L527.6 199.5 L527.8 211.4 L528.1 208.2 L528.3 216.2 L528.5 212.9 L528.7 221.9 L528.9 226.5 L529.1 228.4 L529.3 227.4 L529.5 234.5 L529.7 231.2 L529.9 236.2 L530.2 240.4 L530.4 248.4 L530.6 243.7 L530.8 254.6 L531.0 256.8 L531.2 261.7 L531.4 258.3 L531.6 259.7 L531.8 263.1 L532.0 272.4 L532.3 277.0 L532.5 277.2 L532.7 278.0 L532.9 279.5 L533.1 285.8 L533.3 287.3 L533.3 286.7 L533.5 274.4 L533.7 267.7 L533.9 257.3 L534.1 240.7 L534.4 229.3 L534.6 219.8 L534.8 209.9 L535.0 194.4 L535.2 190.9 L535.4 176.8 L535.6 168.2 L535.8 152.3 L536.0 144.8 L536.2 134.9 L536.2 137.7 L536.5 152.6 L536.7 164.6 L536.9 178.0 L537.1 185.7 L537.3 200.0 L537.3 200.0 L537.5 188.7 L537.7 179.1 L537.9 167.3 L538.1 160.0 L538.1 162.0 L538.3 174.1 L538.6 179.2 L538.8 193.3 L539.0 202.1 L539.2 214.6 L539.2 215.0 L539.4 206.2 L539.6 198.0 L539.8 192.9 L539.9 190.0 L540.0 193.3 L540.2 200.2 L540.4 207.2 L540.7 214.5 L540.9 221.5 L541.1 225.9 L541.3 233.9 L541.5 240.0 L541.5 240.0 L541.7 236.4 L541.9 227.7 L542.1 223.3 L542.3 219.7 L542.5 216.1 L542.6 215.0 L542.8 210.6 L543.0 207.7 L543.2 200.8 L543.4 201.6 L543.6 197.5 L543.8 192.0 L543.9 190.2 L544.0 193.7 L544.2 197.7 L544.4 206.5 L544.6 212.4 L544.9 221.0 L545.1 223.8 L545.3 232.1 L545.5 239.7 L545.5 240.0 L545.7 235.9 L545.9 235.3 L546.1 227.7 L546.3 225.0 L546.3 226.1 L546.5 233.5 L546.7 241.3 L547.0 243.6" stroke="#4DBEEE" stroke-width="3.7" fill="none" stroke-linejoin="round" stroke-linecap="round"/>
<path clip-path="url(#ax)" d="M797.2 268.9 L797.4 267.8 L797.6 266.2 L797.8 262.7 L798.0 258.5 L798.2 254.7 L798.4 254.2 L798.6 251.3 L798.8 249.2 L799.0 246.2 L799.2 243.9 L799.4 241.1 L799.6 239.5 L799.8 236.6 L800.0 233.4 L800.2 229.6 L800.4 226.2 L800.6 227.0 L800.8 221.0 L801.0 217.7 L801.2 214.2 L801.4 216.2 L801.6 209.0 L801.8 207.3 L802.0 203.3 L802.2 201.4 L802.4 199.5 L802.6 199.4 L802.8 193.9 L803.0 194.6 L803.2 187.8 L803.4 187.6 L803.6 186.8 L803.8 187.0 L804.0 188.7 L804.2 188.4 L804.4 190.9 L804.6 192.4 L804.8 197.5 L805.0 198.7 L805.2 198.8 L805.4 201.2 L805.6 201.9 L805.8 200.2 L806.0 200.5 L806.2 200.8 L806.4 199.7 L806.6 198.3 L806.8 197.2 L807.0 197.8 L807.2 196.7 L807.4 199.3 L807.6 197.7 L807.8 197.9 L808.0 200.3 L808.2 198.6 L808.4 202.3 L808.6 203.9 L808.8 204.4 L809.0 202.1 L809.2 203.7 L809.4 204.5 L809.6 204.3 L809.8 204.6 L810.0 202.8 L810.2 203.8 L810.4 206.7 L810.6 208.0 L810.8 209.8 L811.0 212.5 L811.2 215.8 L811.4 219.9 L811.6 221.5 L811.8 225.7 L812.0 231.5 L812.2 234.1 L812.4 238.5 L812.6 241.3 L812.8 246.7 L813.0 249.9 L813.2 254.4 L813.4 254.7 L813.6 258.6 L813.8 262.6 L814.0 264.9 L814.2 266.2 L814.4 266.6 L814.6 265.1 L814.8 265.3 L815.0 261.9 L815.2 256.7 L815.4 256.3 L815.6 253.4 L815.8 251.8 L816.0 249.4 L816.2 244.3 L816.4 240.9 L816.6 240.7 L816.8 235.0 L817.0 236.3 L817.2 232.3 L817.4 232.1 L817.6 229.4 L817.8 223.1 L818.0 223.5 L818.2 220.7 L818.4 215.3 L818.6 214.7 L818.8 213.7 L819.0 209.9 L819.2 204.1 L819.4 203.5 L819.6 200.7 L819.8 195.8 L820.0 198.1 L820.2 195.0 L820.4 189.4 L820.6 189.1 L820.8 187.3 L821.0 186.6 L821.2 187.1 L821.4 188.4 L821.6 191.5 L821.8 189.8 L822.0 194.6 L822.2 196.2 L822.4 197.0 L822.6 199.0 L822.8 200.6 L823.0 201.3 L823.2 198.9 L823.4 199.5 L823.6 199.9 L823.8 198.4 L824.0 198.0 L824.2 197.5 L824.4 196.5 L824.6 197.1 L824.8 199.5 L825.0 199.8 L825.2 200.4 L825.4 199.8 L825.6 203.0 L825.8 203.5 L826.0 202.2 L826.2 204.1 L826.4 204.8 L826.6 203.3 L826.8 202.9 L827.0 203.8 L827.2 204.5 L827.4 206.3 L827.6 207.3 L827.8 209.8 L828.0 212.7 L828.2 215.6 L828.4 219.6 L828.6 224.5 L828.8 229.4 L829.0 230.5 L829.2 234.2 L829.4 239.3 L829.6 243.9 L829.8 245.9 L830.0 249.1 L830.2 253.8 L830.4 257.7 L830.6 261.5 L830.8 263.6 L831.0 264.0 L831.2 264.7 L831.4 263.5 L831.6 260.4 L831.8 256.5 L832.0 253.0 L832.2 252.6 L832.4 250.2 L832.6 244.4 L832.8 245.0 L833.0 242.8 L833.2 238.8 L833.4 236.4 L833.6 234.5 L833.8 232.1 L834.0 226.6 L834.2 222.5 L834.4 220.9 L834.6 217.5 L834.8 215.8 L835.0 213.6 L835.2 212.2 L835.4 210.3 L835.6 204.4 L835.8 204.8 L836.0 198.5 L836.2 197.0 L836.4 193.1 L836.6 190.9 L836.8 188.2 L837.0 187.5 L837.2 186.6 L837.4 186.2 L837.6 185.8 L837.8 184.7 L838.0 189.6 L838.2 187.6 L838.4 188.5 L838.6 188.6 L838.8 190.8 L839.0 191.9 L839.2 194.3 L839.4 195.1 L839.6 197.2 L839.8 197.6 L840.0 198.1 L840.2 198.6 L840.4 200.2 L840.6 200.9 L840.8 198.7 L841.0 201.5 L841.2 202.9 L841.4 203.2 L841.6 203.5 L841.8 202.9 L842.0 204.7 L842.2 201.9 L842.4 204.4 L842.6 202.2 L842.8 205.0 L843.0 205.7 L843.2 205.9 L843.4 205.6 L843.6 205.7 L843.8 208.1 L844.0 207.6 L844.2 209.0 L844.4 210.7 L844.6 214.0 L844.8 217.6 L845.0 219.9 L845.2 224.4 L845.4 227.5 L845.6 230.4 L845.8 232.5 L846.0 236.8 L846.2 242.0 L846.4 245.6 L846.6 246.1 L846.8 251.2 L847.0 255.4 L847.2 258.8 L847.4 260.2 L847.6 262.0 L847.8 262.3 L848.0 261.3 L848.2 259.3 L848.4 259.1 L848.6 253.3 L848.8 250.5 L849.0 250.6 L849.2 246.5 L849.4 246.3 L849.6 240.2 L849.8 238.6 L850.0 235.8 L850.2 233.5 L850.4 229.3 L850.6 230.1 L850.8 225.9 L851.0 224.5 L851.2 220.5 L851.4 217.8 L851.6 214.9 L851.8 210.6 L852.0 208.1 L852.2 204.9 L852.4 204.5 L852.6 202.4 L852.8 197.0 L853.0 193.7 L853.2 192.8 L853.4 192.0 L853.6 189.3 L853.8 188.7 L854.0 189.1 L854.2 187.8 L854.4 189.0 L854.6 189.3 L854.8 191.4 L855.0 194.4 L855.2 194.1 L855.4 192.9 L855.6 194.9 L855.8 197.4 L856.0 199.7 L856.2 198.1 L856.4 199.4 L856.6 200.0 L856.8 200.7 L857.0 200.4 L857.2 200.6 L857.4 201.6 L857.6 201.0 L857.8 202.4 L858.0 202.0 L858.2 202.3 L858.4 206.6 L858.6 204.4 L858.8 206.3 L859.0 205.1 L859.2 206.2 L859.4 208.2 L859.6 208.5 L859.8 207.9 L860.0 207.7 L860.2 208.1 L860.4 210.6 L860.6 210.0 L860.8 211.9 L861.0 213.3 L861.2 216.5 L861.4 220.6 L861.6 221.8 L861.8 223.8 L862.0 226.4 L862.2 230.9 L862.4 231.5 L862.6 236.7 L862.8 237.3 L863.0 240.6 L863.2 246.3 L863.4 246.5 L863.6 251.9 L863.8 254.5 L864.0 254.3 L864.2 256.4 L864.4 259.6 L864.6 261.0 L864.8 261.1 L865.0 259.5 L865.2 257.4 L865.4 253.9 L865.6 253.5 L865.8 249.5 L866.0 246.6 L866.2 242.5 L866.4 239.0 L866.6 238.6 L866.8 234.8 L867.0 233.3 L867.2 227.1 L867.4 227.4 L867.6 224.5 L867.8 219.3 L868.0 216.6 L868.2 215.2 L868.4 212.3 L868.6 209.5 L868.8 203.8 L869.0 202.3 L869.2 200.9 L869.4 198.6 L869.6 194.7 L869.8 192.2 L870.0 188.2 L870.2 187.6 L870.4 186.2 L870.6 185.5 L870.8 187.1 L871.0 185.4 L871.2 188.0 L871.4 190.1 L871.6 188.5 L871.8 190.8 L872.0 191.2 L872.2 192.1 L872.4 196.4 L872.6 194.1 L872.8 196.7 L873.0 197.5 L873.2 198.7 L873.4 199.3 L873.6 200.3 L873.8 200.2 L874.0 201.5 L874.2 199.7 L874.4 201.9 L874.6 203.7 L874.8 202.9 L875.0 202.9 L875.2 202.2 L875.4 204.8 L875.6 205.4 L875.8 205.9 L876.0 204.7 L876.2 205.8 L876.4 206.5 L876.6 206.4 L876.8 207.7 L877.0 208.5 L877.2 210.5 L877.4 212.3 L877.6 214.5 L877.8 216.3 L878.0 220.2 L878.2 223.7 L878.4 226.6 L878.6 230.3 L878.8 230.2 L879.0 233.8 L879.2 238.1 L879.4 242.3 L879.6 245.0 L879.8 246.4 L880.0 251.3 L880.2 251.0 L880.4 254.3 L880.6 256.1 L880.8 258.8 L881.0 259.5 L881.2 259.0 L881.4 259.1 L881.6 255.4 L881.8 251.9 L882.0 251.7 L882.2 250.2 L882.4 246.0 L882.6 244.0 L882.8 242.5 L883.0 237.9 L883.2 236.5 L883.4 231.4 L883.6 230.7 L883.8 227.3 L884.0 226.5 L884.2 221.8 L884.4 219.1 L884.6 216.8 L884.8 213.0 L885.0 211.5 L885.2 208.4 L885.4 208.0 L885.6 202.9 L885.8 200.0 L886.0 199.1 L886.2 196.9 L886.4 194.0 L886.6 191.1 L886.8 190.2 L887.0 189.2 L887.2 188.9 L887.4 189.5 L887.6 190.2 L887.8 191.5 L888.0 190.3 L888.2 190.7 L888.4 193.6 L888.6 194.2 L888.8 193.1 L889.0 197.0 L889.2 197.5 L889.4 197.2 L889.6 199.1 L889.8 199.4 L890.0 199.7 L890.2 201.2 L890.4 202.0 L890.6 202.1 L890.8 202.0 L891.0 204.5 L891.2 204.9 L891.4 205.0 L891.6 203.7 L891.8 205.8 L892.0 204.0 L892.2 207.2 L892.4 204.7 L892.6 207.0 L892.8 205.6 L893.0 207.9 L893.2 206.4 L893.4 209.1 L893.6 209.7 L893.8 211.0 L894.0 212.6 L894.2 214.9 L894.4 218.5 L894.6 219.7 L894.8 221.7 L895.0 226.2 L895.2 228.7 L895.4 231.2 L895.6 233.8 L895.8 235.6 L896.0 240.2 L896.2 242.6 L896.4 246.1 L896.6 248.0 L896.8 250.7 L897.0 252.2 L897.2 254.2 L897.4 255.5 L897.6 255.7 L897.8 255.6 L898.0 252.8 L898.2 250.2 L898.4 247.7 L898.6 247.4 L898.8 242.8 L899.0 240.2 L899.2 240.7 L899.4 237.9 L899.6 235.1 L899.8 230.9 L900.0 228.2 L900.2 227.3 L900.4 222.9 L900.6 221.7 L900.8 220.7 L901.0 217.3 L901.2 213.9 L901.4 213.0 L901.6 208.2 L901.8 207.4 L902.0 205.0 L902.2 203.3 L902.4 200.8 L902.6 196.3 L902.8 194.5 L903.0 192.0 L903.2 191.1 L903.4 188.8 L903.6 187.8 L903.8 186.9 L904.0 187.1 L904.2 188.9 L904.4 187.4 L904.6 189.3 L904.8 189.7 L905.0 192.6 L905.2 191.5 L905.4 192.8 L905.6 194.9 L905.8 196.4 L906.0 196.2 L906.2 198.8 L906.4 200.2 L906.6 200.4 L906.8 200.3 L907.0 201.6 L907.2 202.0 L907.4 203.1 L907.6 203.3 L907.8 204.3 L908.0 203.3 L908.2 205.5 L908.4 205.9 L908.6 206.7 L908.8 207.4 L909.0 206.4 L909.2 206.8 L909.4 207.3 L909.6 207.2 L909.8 208.7 L910.0 209.7 L910.2 209.6 L910.4 211.4 L910.6 213.4 L910.8 215.7 L911.0 217.9 L911.2 220.6 L911.4 224.1 L911.6 227.0 L911.8 228.3 L912.0 231.7 L912.2 234.1 L912.4 236.2 L912.6 239.2 L912.8 243.9 L913.0 244.8 L913.2 246.8 L913.4 250.8 L913.6 253.9 L913.8 254.9 L914.0 256.4 L914.2 257.4 L914.4 257.4 L914.6 256.2 L914.8 253.5 L915.0 252.7 L915.2 250.0 L915.4 246.3 L915.6 245.4 L915.8 241.6 L916.0 238.9 L916.2 236.3 L916.4 235.4 L916.6 232.5 L916.8 230.0 L917.0 227.2 L917.2 224.9 L917.4 220.5 L917.6 219.1 L917.8 217.6 L918.0 215.4 L918.2 211.9 L918.4 209.8 L918.6 208.0 L918.8 204.5 L919.0 202.1 L919.2 199.1 L919.4 196.3 L919.6 194.9 L919.8 191.9 L920.0 188.7 L920.2 187.5 L920.4 186.7 L920.6 185.8 L920.8 185.7 L921.0 185.6 L921.2 185.7 L921.4 188.1 L921.6 188.3 L921.8 190.6 L922.0 191.8 L922.2 192.4 L922.4 192.4 L922.6 193.4 L922.8 194.4 L923.0 196.4 L923.2 196.8 L923.4 198.4 L923.6 198.6 L923.8 199.5 L924.0 200.5 L924.2 201.2 L924.4 200.9 L924.6 202.2 L924.8 202.5 L925.0 202.7 L925.2 203.2 L925.4 204.9 L925.6 204.7 L925.8 205.7 L926.0 206.1 L926.2 207.4 L926.4 209.2 L926.6 208.6 L926.8 209.0 L927.0 210.8 L927.2 212.0 L927.4 213.8 L927.6 216.5 L927.8 219.2 L928.0 222.2 L928.2 224.6 L928.4 227.6 L928.6 231.9 L928.8 234.4 L929.0 237.0 L929.2 240.9 L929.4 244.1 L929.6 247.1 L929.8 250.2 L930.0 253.5 L930.2 255.5 L930.4 257.6 L930.6 258.9 L930.8 259.1 L931.0 258.2 L931.2 256.0 L931.4 254.5 L931.6 252.4 L931.8 249.8 L932.0 247.6 L932.2 245.0 L932.4 241.4 L932.6 239.5 L932.8 235.5 L933.0 234.1 L933.2 230.2 L933.4 229.5 L933.6 226.0 L933.8 224.3 L934.0 220.8 L934.2 218.4 L934.4 215.1 L934.6 212.7 L934.8 210.5 L935.0 207.9 L935.2 205.1 L935.4 203.6 L935.6 199.6 L935.8 198.1 L936.0 194.7 L936.2 192.1 L936.4 190.6 L936.6 187.1 L936.8 185.7 L937.0 184.0 L937.2 183.2 L937.4 182.9 L937.6 184.5 L937.8 185.3 L938.0 186.4 L938.2 186.4 L938.4 187.0 L938.6 188.5 L938.8 190.1 L939.0 191.1 L939.2 192.4 L939.4 194.5 L939.6 194.6 L939.8 195.1 L940.0 196.8 L940.2 198.4 L940.4 199.5 L940.6 200.6 L940.8 201.7 L941.0 203.0 L941.2 204.2 L941.4 205.0 L941.6 205.6 L941.8 206.4 L942.0 207.8 L942.2 209.2 L942.4 209.2 L942.6 210.6 L942.8 210.4 L943.0 211.8 L943.2 213.6 L943.4 215.3 L943.6 217.0 L943.8 218.9 L944.0 221.2 L944.2 223.5 L944.4 227.9 L944.6 229.9 L944.8 233.7 L945.0 235.3 L945.2 238.1 L945.4 242.0 L945.6 243.8 L945.8 247.4 L946.0 249.2 L946.2 252.9 L946.4 256.1 L946.6 257.7 L946.8 259.0 L947.0 259.5 L947.2 259.1 L947.4 257.8 L947.6 255.6 L947.8 253.2 L948.0 250.4 L948.2 249.2 L948.4 245.4 L948.6 243.2 L948.8 239.9 L949.0 237.2 L949.2 235.8 L949.4 232.0 L949.6 230.2 L949.8 226.9 L950.0 224.6 L950.2 222.6 L950.4 220.2 L950.6 217.1 L950.8 213.6 L951.0 211.2 L951.2 209.6 L951.4 206.7 L951.6 203.5 L951.8 201.6 L952.0 198.8 L952.2 196.5 L952.4 193.5 L952.6 191.0 L952.8 187.6 L953.0 186.7 L953.2 183.8 L953.4 182.1 L953.6 180.9 L953.8 180.8 L954.0 181.4 L954.2 182.2 L954.4 183.2 L954.6 183.5 L954.8 184.8 L955.0 187.1 L955.2 188.3 L955.4 189.6 L955.6 190.9 L955.8 191.7 L956.0 193.9 L956.2 194.7 L956.4 195.3 L956.6 197.6 L956.8 198.9 L957.0 200.4 L957.2 200.8 L957.4 202.3 L957.6 203.5 L957.8 204.8 L958.0 206.4 L958.2 207.2 L958.4 208.8 L958.6 209.9 L958.8 210.3 L959.0 211.9 L959.2 213.3 L959.4 214.1 L959.6 215.8 L959.8 217.0 L960.0 218.4 L960.2 219.7 L960.4 221.2 L960.6 223.0 L960.8 224.6 L961.0 227.4 L961.2 229.0 L961.4 231.9 L961.6 233.8 L961.8 236.0 L962.0 238.7 L962.2 240.7 L962.4 243.9 L962.6 246.2 L962.8 247.9 L963.0 249.6 L963.2 251.7 L963.4 253.9 L963.6 255.4 L963.8 255.7 L964.0 255.2 L964.2 254.0 L964.4 251.6 L964.6 249.7 L964.8 247.4 L965.0 243.8 L965.2 242.4 L965.4 239.5 L965.6 236.8 L965.8 234.6 L966.0 232.1 L966.2 229.0 L966.4 226.0 L966.6 224.4 L966.8 220.7 L967.0 218.7 L967.2 215.8 L967.4 213.6 L967.6 210.3 L967.8 208.6 L968.0 205.2 L968.2 202.7 L968.4 200.2 L968.6 197.3 L968.8 195.6 L969.0 193.0 L969.2 190.2 L969.4 187.6 L969.6 185.7 L969.8 182.7 L970.0 181.3 L970.2 179.7 L970.4 179.1 L970.6 179.1 L970.8 180.1 L971.0 180.7 L971.2 183.1 L971.4 183.9 L971.6 185.9 L971.8 186.8 L972.0 188.5 L972.2 189.7 L972.4 191.8 L972.6 192.5 L972.8 194.2 L973.0 195.1 L973.2 197.0 L973.4 198.5 L973.6 200.0 L973.8 201.8 L974.0 203.3 L974.2 204.2 L974.4 206.3 L974.6 207.5 L974.8 208.5 L975.0 209.9 L975.2 211.6 L975.4 213.2 L975.6 213.7 L975.8 216.1 L976.0 217.1 L976.2 218.9 L976.4 220.0 L976.6 220.9 L976.8 222.4 L977.0 223.2 L977.2 225.6 L977.4 226.2 L977.6 227.5 L977.8 229.3 L978.0 230.0 L978.2 231.5 L978.4 233.4 L978.6 234.6 L978.8 236.4 L979.0 237.5 L979.2 238.4 L979.4 240.6 L979.6 240.9 L979.8 242.5 L980.0 244.0 L980.2 245.4 L980.4 245.7 L980.6 246.8 L980.8 246.8 L981.0 246.0 L981.2 244.6 L981.4 243.0 L981.6 242.1 L981.8 239.6 L982.0 238.0 L982.2 235.5 L982.4 233.7 L982.6 231.3 L982.8 229.7 L983.0 228.1 L983.2 225.8 L983.4 223.2 L983.6 222.0 L983.8 219.3 L984.0 217.2 L984.2 215.2 L984.4 213.6 L984.6 211.1 L984.8 209.2 L985.0 207.4 L985.2 206.4 L985.4 204.2 L985.6 202.0 L985.8 200.0 L986.0 197.6 L986.2 195.4 L986.4 194.3 L986.6 192.4 L986.8 190.4 L987.0 187.8 L987.2 186.3 L987.4 185.5 L987.6 184.6 L987.8 184.8 L988.0 185.5 L988.2 186.4 L988.4 187.5 L988.6 187.8 L988.8 189.3 L989.0 191.0 L989.2 192.2 L989.4 193.4 L989.6 194.6 L989.8 195.6 L990.0 196.9 L990.2 197.9 L990.4 200.2 L990.6 201.3 L990.8 201.6 L991.0 203.9 L991.2 205.0 L991.4 206.5 L991.6 207.6 L991.8 208.2 L992.0 209.8 L992.2 211.5 L992.4 212.4 L992.6 213.6 L992.8 214.5 L993.0 215.6 L993.2 217.2 L993.4 218.4 L993.6 219.4 L993.8 221.6 L994.0 222.0 L994.2 223.6 L994.4 224.8 L994.6 226.6 L994.8 227.0 L995.0 228.5 L995.2 229.4 L995.4 231.4 L995.6 232.1 L995.8 233.9 L996.0 235.3 L996.2 235.5 L996.4 236.4 L996.6 237.0 L996.8 236.9 L997.0 236.4 L997.2 235.9 L997.4 235.8 L997.6 234.5 L997.8 234.3 L998.0 232.6 L998.2 232.7 L998.4 231.7 L998.6 230.2 L998.8 230.1 L999.0 229.5 L999.2 228.6 L999.4 227.5 L999.6 226.3 L999.8 225.7 L1000.0 225.4 L1000.2 224.0 L1000.4 223.3 L1000.6 222.1 L1000.8 221.4 L1001.0 221.2 L1001.2 219.5 L1001.4 219.1 L1001.6 218.9 L1001.8 218.0 L1002.0 216.7 L1002.2 215.8 L1002.4 215.4 L1002.6 214.5 L1002.8 213.8 L1003.0 213.0 L1003.2 212.3 L1003.4 211.7 L1003.6 211.5 L1003.8 210.7 L1004.0 209.9 L1004.2 210.0 L1004.4 209.4 L1004.6 208.9 L1004.8 207.7 L1005.0 207.8 L1005.2 207.3 L1005.4 206.2 L1005.6 206.3 L1005.8 205.3 L1006.0 204.9 L1006.2 205.1 L1006.4 204.7 L1006.6 204.7 L1006.8 204.9 L1007.0 205.5 L1007.2 205.7 L1007.4 205.8 L1007.6 207.1 L1007.8 207.7 L1008.0 207.5 L1008.2 208.8 L1008.4 208.4 L1008.6 209.9 L1008.8 210.4 L1009.0 210.2 L1009.2 211.0 L1009.4 211.7 L1009.6 212.4 L1009.8 212.7 L1010.0 213.7 L1010.2 214.2 L1010.4 215.0 L1010.6 215.6 L1010.8 216.9 L1011.0 216.9 L1011.2 218.2 L1011.4 219.0 L1011.6 220.0 L1011.8 220.6 L1012.0 221.3 L1012.2 222.2 L1012.4 222.8 L1012.6 223.1 L1012.8 223.7 L1013.0 225.1 L1013.2 225.8 L1013.4 226.3 L1013.6 226.8 L1013.8 227.4 L1014.0 228.0 L1014.2 228.2 L1014.4 228.1 L1014.6 228.3 L1014.8 227.8 L1015.0 227.5 L1015.2 226.8 L1015.4 226.9 L1015.6 226.5 L1015.8 225.4 L1016.0 225.6 L1016.2 224.9 L1016.4 224.8 L1016.6 224.2 L1016.8 224.4 L1017.0 223.7 L1017.2 223.6 L1017.4 222.5 L1017.6 223.0 L1017.8 222.6 L1018.0 221.7 L1018.2 221.0 L1018.4 220.7 L1018.6 220.2 L1018.8 220.1 L1019.0 220.1 L1019.2 219.9 L1019.4 220.1 L1019.6 220.5 L1019.8 220.2 L1020.0 220.6 L1020.2 220.5 L1020.4 220.9 L1020.6 221.6 L1020.8 221.7 L1021.0 221.6 L1021.2 222.6 L1021.4 222.2 L1021.6 223.0 L1021.8 222.9 L1022.0 223.0 L1022.2 223.5 L1022.4 223.5 L1022.6 223.4 L1022.8 223.5 L1023.0 223.3 L1023.2 222.8 L1023.4 222.2 L1023.6 221.0 L1023.8 220.4 L1024.0 219.2 L1024.2 219.0 L1024.4 217.4 L1024.6 216.6 L1024.8 215.9 L1025.0 214.8 L1025.2 214.2 L1025.4 213.5 L1025.6 212.6 L1025.8 211.6 L1026.0 211.0 L1026.2 210.0 L1026.4 210.0 L1026.6 209.3 L1026.8 208.3 L1027.0 208.0 L1027.2 206.5 L1027.4 206.3 L1027.6 205.6 L1027.8 205.3 L1028.0 205.2 L1028.2 205.1 L1028.4 205.5 L1028.6 205.8 L1028.8 206.0 L1029.0 206.9 L1029.2 208.1 L1029.4 208.4 L1029.6 208.4 L1029.8 209.8 L1030.0 210.3 L1030.2 210.7 L1030.4 211.7 L1030.6 212.1 L1030.8 212.3 L1031.0 213.0 L1031.2 213.7 L1031.4 213.8 L1031.6 214.8 L1031.8 215.1 L1032.0 216.0 L1032.2 216.7 L1032.4 216.8 L1032.6 217.3 L1032.8 218.3 L1033.0 218.5 L1033.2 219.2 L1033.4 220.1 L1033.6 220.2 L1033.8 220.6 L1034.0 221.6 L1034.2 221.8 L1034.4 222.8 L1034.6 223.2 L1034.8 224.0 L1035.0 224.0 L1035.2 225.1 L1035.4 225.8 L1035.6 226.5 L1035.8 227.2 L1036.0 228.3 L1036.2 229.3 L1036.4 230.0 L1036.6 230.6 L1036.8 230.6 L1037.0 230.4 L1037.2 229.9 L1037.4 229.1 L1037.6 228.7 L1037.8 229.0 L1038.0 229.2 L1038.2 229.5 L1038.4 229.7 L1038.6 230.0 L1038.8 225.7 L1039.0 221.4 L1039.2 217.1 L1039.4 218.1 L1039.6 224.4 L1039.8 230.7 L1040.0 237.0 L1040.2 232.4 L1040.4 227.8 L1040.6 223.2 L1040.8 218.6 L1041.0 214.0 L1041.2 218.5 L1041.4 223.0 L1041.6 227.5 L1041.8 232.0 L1042.0 228.9 L1042.2 225.7 L1042.4 222.6 L1042.6 219.4 L1042.8 216.3 L1043.0 213.1" stroke="#4DBEEE" stroke-width="2.67" fill="none" stroke-linejoin="round" stroke-linecap="round"/>
<g style="opacity:0.999;text-rendering:geometricPrecision">
<g font-family="'Liberation Sans', Arial, Helvetica, sans-serif" fill="#262626" font-size="19.8">
<text transform="translate(71.10 371.9) scale(1 1.045)" text-anchor="middle">0</text>
<text transform="translate(252.77 371.9) scale(1 1.045)" text-anchor="middle">0.05</text>
<text transform="translate(434.43 371.9) scale(1 1.045)" text-anchor="middle">0.1</text>
<text transform="translate(616.10 371.9) scale(1 1.045)" text-anchor="middle">0.15</text>
<text transform="translate(797.77 371.9) scale(1 1.045)" text-anchor="middle">0.2</text>
<text transform="translate(979.43 371.9) scale(1 1.045)" text-anchor="middle">0.25</text>
<text transform="translate(1161.10 371.9) scale(1 1.045)" text-anchor="middle">0.3</text>
<text transform="translate(64 32.40) scale(1 1.045)" text-anchor="end">0.6</text>
<text transform="translate(64 96.60) scale(1 1.045)" text-anchor="end">0.4</text>
<text transform="translate(64 160.80) scale(1 1.045)" text-anchor="end">0.2</text>
<text transform="translate(64 225.00) scale(1 1.045)" text-anchor="end">0</text>
<text transform="translate(64 289.20) scale(1 1.045)" text-anchor="end">-0.2</text>
<text transform="translate(64 353.40) scale(1 1.045)" text-anchor="end">-0.4</text>
</g>
<text font-family="'Liberation Sans', Arial, Helvetica, sans-serif" fill="#262626" font-size="21.7" transform="translate(616.60 397.6) scale(1 1.045)" text-anchor="middle">Time (s)</text>
<text font-family="'Liberation Sans', Arial, Helvetica, sans-serif" fill="#262626" font-size="21.7" text-anchor="middle" transform="translate(19.2 186.50) rotate(-90) scale(1 1.045)">Amplitude</text>
<text font-family="'Liberation Sans', Arial, Helvetica, sans-serif" fill="#1a1a1a" font-size="21.8" font-weight="bold" transform="translate(615.50 17.8) scale(1 1.045)" text-anchor="middle">MAT-005-018-0004</text>
</g>
</svg>
</body>
</html>
